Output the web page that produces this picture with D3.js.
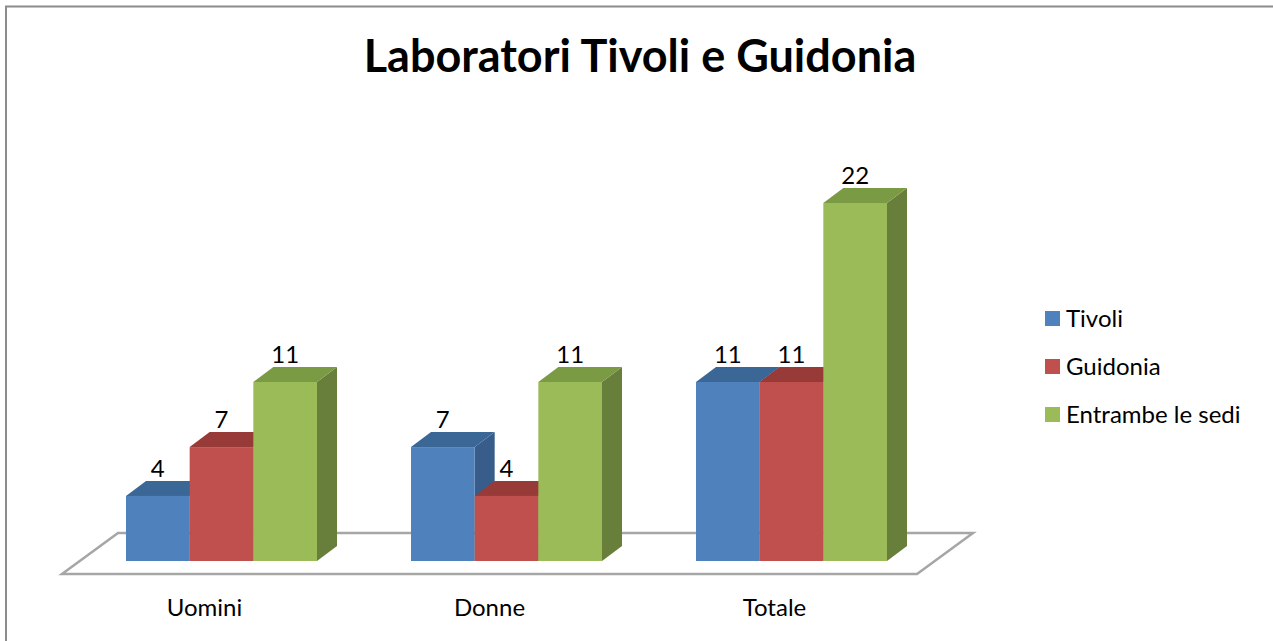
<!DOCTYPE html>
<html>
<head>
<meta charset="utf-8">
<script src="https://cdn.jsdelivr.net/npm/d3@7"></script>
<style>
  body { margin: 0; background: #fff; }
  svg { display: block; }
</style>
</head>
<body>
<div id="chart"></div>
<script>
// chart data
const categories = ['Uomini', 'Donne', 'Totale'];
const seriesNames = ['Tivoli', 'Guidonia', 'Entrambe le sedi'];
const tivoli = [4, 7, 11];
const guidonia = [7, 4, 11];
const entrambe = [11, 11, 22];

const seriesValues = [tivoli, guidonia, entrambe];
const colors = [
  { front: '#4f81bd', top: '#3b6797', side: '#385d8a' },
  { front: '#c0504d', top: '#983a38', side: '#8c3836' },
  { front: '#9bbb59', top: '#7a9a43', side: '#677f3b' }
];

const width = 1273;
const height = 641;
const font = 'Lato, "Open Sans", sans-serif';

const svg = d3.select('#chart').append('svg')
  .attr('width', width)
  .attr('height', height);

// outer border (only top and left show)
svg.append('path')
  .attr('d', `M6,${height + 5}V6.5H${width + 5}`)
  .attr('fill', 'none')
  .attr('stroke', '#8c8c8c')
  .attr('stroke-width', 2);

// title
svg.append('text')
  .attr('x', 640)
  .attr('y', 72)
  .attr('text-anchor', 'middle')
  .attr('font-family', font)
  .attr('font-weight', 'bold')
  .attr('font-size', 45)
  .attr('fill', '#000')
  .text('Laboratori Tivoli e Guidonia');

// floor front edge and depth
const floorFront = 574;
const depth = { x: 56, y: 41 };      // full depth of floor
const barShift = { x: 17, y: 13 };   // bars sit a little back on the floor
const barDepth = { x: 20, y: 15 };   // depth of each bar

const x0 = d3.scaleBand()
  .domain(categories)
  .range([62, 917]);

const x1 = d3.scaleBand()
  .domain(seriesNames)
  .range([47, x0.bandwidth() - 47]);

const y = d3.scaleLinear()
  .domain([0, 22])
  .range([floorFront - barShift.y, 203]);

// floor
const fl = x0.range();
svg.append('path')
  .attr('d', `M${fl[0]},${floorFront}L${fl[1]},${floorFront}L${fl[1] + depth.x},${floorFront - depth.y}L${fl[0] + depth.x},${floorFront - depth.y}Z`)
  .attr('fill', '#fff')
  .attr('stroke', '#a6a6a6')
  .attr('stroke-width', 2.5)
  .attr('stroke-linejoin', 'miter');

// bars, drawn left to right so each front hides the previous side
const bars = [];
categories.forEach((cat, ci) => {
  seriesNames.forEach((s, si) => {
    bars.push({ cat, series: s, si, value: seriesValues[si][ci] });
  });
});

const barG = svg.append('g')
  .selectAll('g')
  .data(bars)
  .join('g')
  .attr('transform', d => `translate(${x0(d.cat) + x1(d.series) + barShift.x},0)`);

const bw = x1.bandwidth();
const base = y(0);

barG.append('path')
  .attr('fill', d => colors[d.si].side)
  .attr('d', d => {
    const top = y(d.value);
    return `M${bw},${top}L${bw + barDepth.x},${top - barDepth.y}L${bw + barDepth.x},${base - barDepth.y}L${bw},${base}Z`;
  });

barG.append('path')
  .attr('fill', d => colors[d.si].top)
  .attr('d', d => {
    const top = y(d.value);
    return `M0,${top}L${barDepth.x},${top - barDepth.y}L${bw + barDepth.x},${top - barDepth.y}L${bw},${top}Z`;
  });

barG.append('rect')
  .attr('x', 0)
  .attr('y', d => y(d.value))
  .attr('width', bw)
  .attr('height', d => base - y(d.value))
  .attr('fill', d => colors[d.si].front);

// value labels
barG.append('text')
  .attr('x', bw / 2)
  .attr('y', d => y(d.value) - barDepth.y - 4)
  .attr('text-anchor', 'middle')
  .attr('font-family', font)
  .attr('font-size', 24)
  .attr('fill', '#000')
  .text(d => d.value);

// category labels
svg.append('g')
  .selectAll('text')
  .data(categories)
  .join('text')
  .attr('x', d => x0(d) + x0.bandwidth() / 2)
  .attr('y', 616)
  .attr('text-anchor', 'middle')
  .attr('font-family', font)
  .attr('font-size', 24)
  .attr('fill', '#000')
  .text(d => d);

// legend
const legend = svg.append('g')
  .selectAll('g')
  .data(seriesNames)
  .join('g')
  .attr('transform', (d, i) => `translate(1045,${311 + i * 48})`);

legend.append('rect')
  .attr('width', 15)
  .attr('height', 15)
  .attr('fill', (d, i) => colors[i].front);

legend.append('text')
  .attr('x', 21)
  .attr('y', 16)
  .attr('font-family', font)
  .attr('font-size', 24)
  .attr('fill', '#000')
  .text(d => d);
</script>
</body>
</html>
